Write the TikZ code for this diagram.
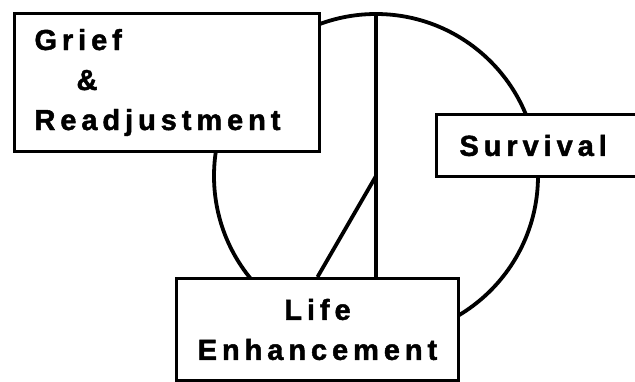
\documentclass[tikz,border=0pt]{standalone}
\usepackage{fontspec}
\newfontfamily\stagefont{Liberation Sans}[UprightFont=* Bold,LetterSpace=17,FakeBold=1.6]
\usetikzlibrary{positioning,calc}
\tikzset{
  stagebox/.style={rectangle,draw=black,fill=white,line width=3pt,
    font=\stagefont\fontsize{29}{40}\selectfont,inner sep=0pt,align=#1},
  stagebox/.default=center,
  cycleline/.style={line width=3.8pt,draw=black},
}
\begin{document}
\begin{tikzpicture}[x=1pt,y=-1pt]
  \useasboundingbox (0,0) rectangle (635,381);
  \coordinate (hub) at (376,176);
  \coordinate (apex) at (376,14);
  \draw[cycleline] (hub) circle (162pt);
  \node[stagebox=left,anchor=north west,minimum width=305pt,minimum height=138pt,
    text width=265pt] (grief) at (13,12) {Grief\\\hspace*{42pt}\&\\Readjustment};
  \node[stagebox=left,anchor=north west,minimum height=62pt,text width=180pt,
    inner xsep=23pt] (survival) at (435,113) {Survival};
  \node[stagebox,anchor=north west,minimum width=282pt,minimum height=102pt]
    (life) at (175,277) {Life\\Enhancement};
  \draw[cycleline] (apex) -- (apex |- life.north);
  \draw[cycleline] (hub) -- (life.north);
\end{tikzpicture}
\end{document}
